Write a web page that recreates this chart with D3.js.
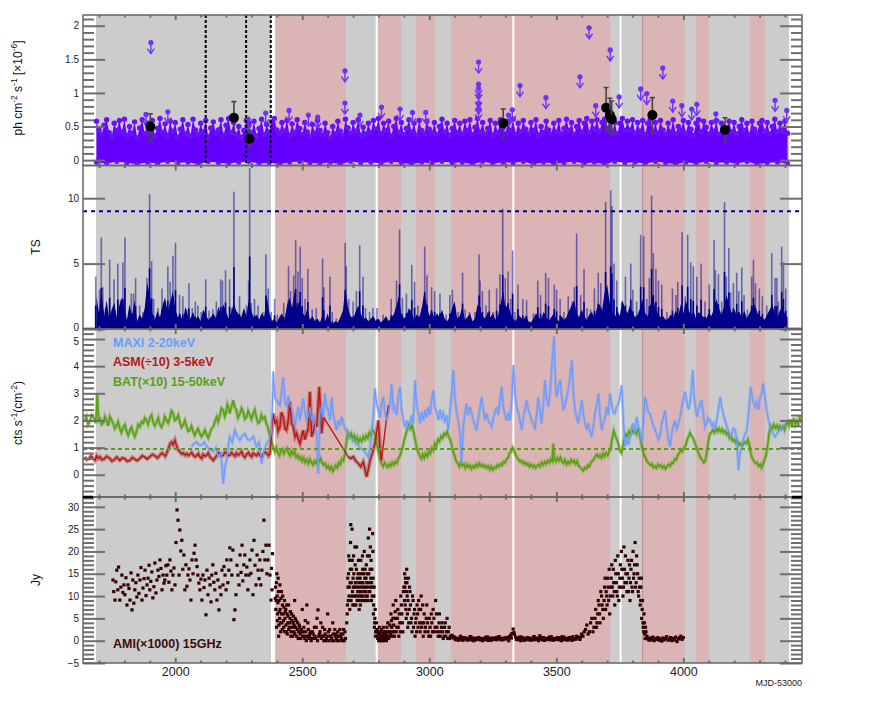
<!DOCTYPE html>
<html><head><meta charset="utf-8">
<script src="https://cdn.jsdelivr.net/npm/d3@7"></script>
<style>
body{margin:0;background:#fff}
svg{display:block}
text{font-family:"Liberation Sans",Arial,Helvetica,sans-serif}
</style>
</head><body>
<svg id="c" width="888" height="721"></svg>
<script>
// ---------------- DATA ----------------
const xDomain=[1637,4467];
const xMajor=[2000,2500,3000,3500,4000];
const grayBand=[1688,4416];
const pinkBands=[[2393,2672],[2798,2889],[2948,3022],[3085,3712],[3840,4005],[4049,4100],[4262,4321]];
const whiteGaps=[[2377,2393],[2789,2797],[3327,3335],[3749,3757]];
const dottedLines=[2120,2279,2376];
const edgeLine=3840;

// Panel 1: LAT flux (1e-6 ph cm-2 s-1), upper envelope every 10 d from 1690
const lfStart=1690, lfStep=10;
const lfTop=[0.58,0.45,0.38,0.52,0.60,0.41,0.35,0.55,0.44,0.59,
0.42,0.61,0.37,0.50,0.40,0.57,0.33,0.48,0.60,0.39,
0.55,0.40,0.59,0.36,0.47,0.62,0.41,0.54,0.37,0.58,
0.43,0.56,0.34,0.46,0.60,0.39,0.53,0.36,0.61,0.45,
0.38,0.55,0.42,0.59,0.35,0.48,0.57,0.40,0.45,0.60,
0.37,0.52,0.62,0.41,0.56,0.38,0.50,0.34,0.44,0.59,
0.55,0.39,0.58,0.36,0.47,0.61,0.38,0.53,0.42,0.57,
0.62,0.45,0.40,0.56,0.43,0.59,0.37,0.54,0.41,0.60,
0.47,0.38,0.56,0.42,0.35,0.53,0.40,0.59,0.44,0.37,
0.55,0.41,0.33,0.50,0.39,0.58,0.43,0.36,0.61,0.48,
0.40,0.56,0.43,0.60,0.37,0.49,0.39,0.55,0.41,0.59,
0.46,0.62,0.39,0.55,0.44,0.58,0.36,0.50,0.62,0.41,
0.56,0.38,0.47,0.60,0.42,0.55,0.37,0.59,0.44,0.39,
0.58,0.46,0.40,0.56,0.38,0.50,0.61,0.42,0.55,0.37,
0.47,0.59,0.41,0.55,0.39,0.58,0.44,0.60,0.38,0.49,
0.62,0.42,0.56,0.39,0.47,0.59,0.37,0.55,0.41,0.60,
0.48,0.39,0.58,0.44,0.61,0.38,0.55,0.42,0.59,0.46,
0.39,0.56,0.44,0.60,0.37,0.50,0.41,0.58,0.45,0.38,
0.55,0.42,0.59,0.39,0.47,0.61,0.44,0.56,0.38,0.50,
0.59,0.42,0.55,0.62,0.41,0.58,0.46,0.60,0.43,0.56,
0.61,0.47,0.59,0.42,0.56,0.39,0.55,0.62,0.44,0.58,
0.45,0.60,0.40,0.56,0.43,0.59,0.38,0.55,0.61,0.42,
0.56,0.40,0.59,0.45,0.38,0.55,0.42,0.60,0.39,0.50,
0.44,0.59,0.40,0.56,0.46,0.37,0.55,0.60,0.42,0.58,
0.49,0.39,0.56,0.43,0.59,0.38,0.55,0.41,0.47,0.58,
0.42,0.56,0.39,0.50,0.60,0.44,0.55,0.38,0.58,0.46,
0.40,0.55,0.59,0.43,0.56,0.39,0.50,0.61,0.42,0.55,
0.44,0.58,0.40];
const lfBotStep=40;
const lfBot=[-0.03,-0.05,-0.02,-0.04,-0.06,-0.03,-0.05,-0.02,-0.04,-0.03,
-0.06,-0.02,-0.04,-0.05,-0.03,-0.02,-0.05,-0.04,-0.06,-0.03,
-0.02,-0.04,-0.05,-0.03,-0.06,-0.02,-0.04,-0.03,-0.05,-0.02,
-0.04,-0.06,-0.03,-0.05,-0.02,-0.04,-0.03,-0.06,-0.02,-0.05,
-0.03,-0.04,-0.02,-0.06,-0.03,-0.05,-0.04,-0.02,-0.05,-0.03,
-0.06,-0.02,-0.04,-0.03,-0.05,-0.02,-0.04,-0.06,-0.03,-0.05,
-0.02,-0.04,-0.03,-0.05,-0.02,-0.06,-0.04,-0.03,-0.05];
const upperLimits=[[1904,1.75],[1885,0.68],[1971,0.72],[2287,0.61],[2356,0.70],[2448,0.74],[2524,0.67],[2561,0.64],
[2668,1.33],[2668,0.85],[2727,0.67],[2812,0.79],[2885,0.76],[2934,0.71],[2986,0.71],
[3194,1.46],[3194,1.13],[3194,1.07],[3194,0.95],[3194,0.85],[3194,0.77],[3312,0.67],[3327,0.75],[3357,1.11],
[3459,0.93],[3593,1.24],[3629,1.97],[3655,0.81],[3712,1.64],[3747,0.94],[3832,1.06],[3856,0.99],[3919,1.37],
[3958,0.88],[3994,0.81],[4033,0.76],[4053,0.83],[4128,0.69],[4361,0.89],[4407,0.74]];
const detections=[[1902,0.50,0.69,0.29],[2231,0.63,0.87,0.40],[2292,0.32,0.44,0.21],[3291,0.55,0.76,0.32],
[3696,0.78,1.08,0.47],[3711,0.67,0.92,0.42],[3718,0.61,0.88,0.37],[3878,0.67,0.93,0.42],[4164,0.45,0.63,0.27]];

// Panel 2: TS
const tsThreshold=9;
const tsCoreStart=1690, tsCoreStep=10;
const tsCore=[2.5,1.2,3.0,1.0,2.2,0.8,1.5,2.0,0.9,1.8,
2.4,1.5,0.7,1.9,1.0,2.2,0.6,1.1,0.8,1.6,
3.5,2.6,1.2,0.7,1.4,0.9,1.8,2.4,1.3,2.0,
2.9,1.6,0.9,1.1,0.6,1.7,1.0,0.8,1.3,0.7,
1.0,0.6,1.5,1.1,0.7,0.9,1.2,0.8,1.7,1.1,
1.9,1.3,0.8,1.2,2.0,1.4,1.1,0.9,1.6,1.0,
2.3,1.4,0.8,1.1,0.7,1.2,0.9,2.6,1.3,0.6,
0.8,0.5,0.9,1.2,0.7,1.8,2.4,1.6,2.9,1.5,
2.2,1.4,0.9,1.6,0.7,1.0,0.6,0.8,0.5,1.1,
0.6,1.2,0.5,0.4,0.6,0.5,0.9,1.4,3.2,1.6,
1.0,0.8,1.3,1.8,1.2,0.7,0.9,0.6,0.8,1.0,
0.6,0.8,0.5,0.7,1.0,0.6,0.9,1.1,1.7,2.5,
1.2,0.8,1.0,1.6,1.3,0.7,1.1,0.9,1.5,2.8,
1.9,1.0,1.4,0.8,1.2,0.9,1.5,0.8,0.6,0.9,
1.6,2.1,0.8,1.0,1.7,0.7,0.9,1.2,0.6,0.8,
1.9,1.5,1.0,0.8,1.3,0.9,1.2,0.7,1.0,1.8,
3.0,1.6,1.9,1.2,0.8,0.6,1.1,0.9,0.7,1.0,
0.6,0.5,0.8,1.2,0.9,0.7,1.3,1.0,0.6,0.9,
1.2,0.8,0.6,1.0,0.7,0.9,1.4,1.8,2.2,1.2,
0.9,1.5,1.0,0.7,1.1,1.3,0.8,1.6,1.9,1.4,
2.8,3.4,2.0,1.3,0.9,1.4,1.0,2.2,1.6,1.2,
1.8,1.3,0.9,1.1,1.6,2.3,1.2,0.9,1.8,2.6,
1.5,1.2,0.9,1.0,0.7,0.8,1.1,0.9,1.4,1.0,
1.9,1.2,2.2,1.5,1.0,1.4,0.8,1.3,1.1,0.9,
0.8,1.2,1.0,1.5,2.3,1.6,1.1,1.7,2.6,1.9,
1.2,1.5,1.1,1.3,0.9,1.4,0.8,1.2,1.6,1.9,
1.3,1.0,0.9,0.7,1.1,1.5,1.9,1.2,0.9,1.4,
1.8,1.1,0.9];
const tsSpikes=[[1687,4.0],[1702,3.0],[1709,7.0],[1715,3.2],[1726,1.6],[1742,5.3],[1759,3.8],[1774,5.0],[1785,2.2],[1794,5.1],
[1802,7.0],[1827,2.7],[1836,2.7],[1844,3.9],[1860,1.8],[1873,1.3],[1889,3.9],[1899,10.3],[1907,5.2],[1915,2.3],
[1932,1.6],[1948,3.1],[1959,1.2],[1971,4.8],[1980,3.6],[1991,5.6],[2001,6.6],[2017,2.6],[2030,2.5],[2046,1.5],
[2054,3.5],[2067,1.6],[2079,2.1],[2089,1.8],[2102,1.3],[2120,3.8],[2133,1.4],[2148,1.5],[2162,2.1],[2179,3.8],
[2186,3.7],[2198,4.5],[2214,3.8],[2222,1.6],[2231,10.5],[2242,1.3],[2253,2.5],[2280,1.8],[2289,3.7],[2293,12.3],
[2299,2.0],[2312,2.3],[2326,1.8],[2345,1.3],[2357,5.7],[2366,3.1],[2378,1.3],[2391,2.3],[2402,1.1],[2427,2.0],
[2446,4.8],[2454,2.9],[2466,4.1],[2474,6.8],[2483,4.4],[2492,6.3],[2500,3.9],[2511,2.3],[2522,4.6],[2539,1.5],
[2555,1.6],[2580,5.4],[2585,3.2],[2609,4.0],[2618,1.3],[2634,0.8],[2669,6.6],[2673,4.8],[2683,2.3],[2700,2.1],
[2713,2.9],[2726,6.4],[2739,4.0],[2749,1.6],[2765,1.3],[2778,1.6],[2794,1.6],[2818,1.1],[2850,2.3],[2871,3.7],
[2883,7.6],[2894,2.4],[2910,2.7],[2931,4.9],[2942,3.6],[2955,1.8],[2970,1.6],[2982,6.3],[2991,4.1],[3009,3.2],
[3021,2.9],[3042,2.7],[3066,1.1],[3081,2.6],[3091,3.0],[3114,1.3],[3131,4.3],[3141,1.5],[3158,1.3],[3180,1.3],
[3196,5.7],[3200,3.7],[3209,2.9],[3223,1.8],[3236,3.0],[3252,1.3],[3265,3.1],[3278,4.2],[3289,9.2],[3299,3.9],
[3310,4.4],[3320,2.3],[3328,6.0],[3337,1.3],[3349,3.4],[3368,2.3],[3383,2.2],[3410,1.2],[3427,3.7],[3438,2.6],
[3458,4.3],[3469,3.9],[3492,3.4],[3501,3.0],[3515,2.3],[3530,1.3],[3547,2.5],[3563,2.1],[3571,3.2],[3580,7.3],
[3596,2.6],[3609,4.6],[3621,1.6],[3635,1.5],[3650,3.1],[3665,4.3],[3675,3.5],[3694,9.7],[3705,2.2],[3714,10.6],
[3719,9.4],[3727,5.0],[3738,3.7],[3757,2.1],[3772,4.0],[3793,5.0],[3801,3.0],[3816,2.1],[3832,7.2],[3844,7.1],
[3856,2.3],[3866,3.9],[3875,10.2],[3882,5.8],[3892,4.6],[3902,3.7],[3915,3.4],[3935,1.3],[3957,3.1],[3971,2.6],
[3978,3.6],[3995,7.4],[4007,2.5],[4017,7.2],[4029,5.1],[4039,4.8],[4053,4.0],[4070,5.0],[4085,2.1],[4102,3.4],
[4121,6.8],[4126,4.5],[4138,4.2],[4151,2.1],[4162,9.7],[4169,4.0],[4179,6.2],[4186,2.8],[4197,3.5],[4210,4.3],
[4218,2.9],[4230,4.7],[4239,2.6],[4252,1.5],[4269,4.0],[4276,5.3],[4284,3.5],[4299,3.1],[4311,2.5],[4328,1.8],
[4348,5.8],[4361,3.9],[4368,3.9],[4374,2.1],[4387,6.3],[4394,5.1],[4403,3.1]];

// Panel 3: X-ray rates [mjd, value]
const batLevel=0.95;
const maxi=[[2064,1.03],[2074,1.15],[2084,1.21],[2094,1.1],[2104,1.09],[2114,1.2],[2124,1.03],[2137,0.95],[2150,0.84],[2160,1.0],
[2169,0.66],[2180,0.8],[2189,-0.33],[2196,0.3],[2202,0.53],[2208,1.0],[2215,1.4],[2225,1.2],[2235,1.64],[2245,1.4],
[2255,1.27],[2265,1.45],[2274,1.52],[2284,1.3],[2294,1.27],[2307,1.4],[2320,1.03],[2330,1.2],[2340,0.41],[2350,0.9],
[2360,1.15],[2370,1.3],[2379,1.52],[2386,3.8],[2392,2.87],[2400,2.7],[2412,2.56],[2418,3.0],[2425,3.6],[2432,2.7],
[2438,2.5],[2445,2.9],[2451,2.6],[2458,2.44],[2465,2.1],[2471,1.76],[2478,2.2],[2485,2.5],[2491,2.0],[2497,2.4],
[2504,2.81],[2511,2.3],[2517,2.0],[2524,2.13],[2530,2.5],[2537,2.0],[2543,2.26],[2550,1.9],[2557,1.4],[2563,0.04],
[2570,2.26],[2576,2.6],[2583,2.1],[2589,3.0],[2596,2.5],[2602,2.38],[2609,2.0],[2616,2.87],[2622,2.2],[2629,1.9],
[2635,1.64],[2642,2.0],[2648,1.8],[2655,2.13],[2662,1.9],[2668,1.7],[2672,1.64],[2680,1.5],[2688,1.4],[2700,1.3],
[2714,1.15],[2727,1.0],[2740,0.9],[2750,0.8],[2760,0.66],[2767,1.0],[2773,1.52],[2780,2.2],[2786,3.18],[2793,2.6],
[2799,2.38],[2806,2.1],[2812,2.6],[2819,2.87],[2826,2.3],[2832,2.0],[2839,2.26],[2846,2.6],[2852,3.36],[2859,2.4],
[2865,2.5],[2872,2.2],[2878,2.9],[2885,3.24],[2891,2.4],[2898,2.0],[2904,1.76],[2911,2.0],[2917,1.64],[2924,1.9],
[2930,2.2],[2937,1.89],[2944,3.49],[2950,2.6],[2957,2.26],[2963,1.9],[2970,2.3],[2977,2.0],[2983,2.4],[2990,2.1],
[2996,2.5],[3003,2.2],[3009,2.7],[3016,3.12],[3022,2.5],[3029,2.3],[3036,2.0],[3042,2.4],[3049,2.1],[3055,2.26],
[3062,1.9],[3068,2.2],[3075,1.64],[3082,2.4],[3088,3.0],[3095,3.86],[3101,2.8],[3108,2.26],[3114,2.0],[3121,1.5],
[3127,0.41],[3134,1.8],[3141,2.3],[3147,2.63],[3154,2.2],[3160,2.5],[3167,2.26],[3173,2.0],[3180,1.8],[3186,1.64],
[3193,2.1],[3200,2.5],[3206,2.87],[3213,2.4],[3219,2.0],[3226,2.26],[3232,2.0],[3239,1.9],[3246,1.76],[3252,2.1],
[3259,2.3],[3265,2.5],[3272,2.2],[3278,2.8],[3285,3.24],[3291,2.5],[3298,2.2],[3305,2.0],[3311,2.3],[3318,2.0],
[3324,2.63],[3331,4.04],[3337,3.0],[3344,2.5],[3350,2.3],[3357,2.0],[3364,1.64],[3370,2.1],[3377,2.4],[3383,2.75],
[3390,2.4],[3396,2.26],[3403,2.0],[3410,1.9],[3416,1.64],[3423,2.3],[3429,2.87],[3436,2.3],[3442,1.89],[3449,2.6],
[3455,3.49],[3462,2.8],[3469,2.5],[3475,3.0],[3482,3.98],[3491,5.09],[3496,3.5],[3501,2.87],[3508,3.2],[3515,3.49],
[3521,2.9],[3528,2.38],[3535,2.6],[3541,2.87],[3548,3.2],[3554,3.6],[3561,4.22],[3567,3.0],[3574,2.38],[3580,2.1],
[3587,1.89],[3593,2.3],[3600,2.75],[3607,2.2],[3613,1.9],[3620,1.64],[3626,1.9],[3633,1.6],[3639,1.4],[3646,1.8],
[3652,2.26],[3659,2.6],[3666,3.0],[3672,2.2],[3679,1.64],[3685,1.9],[3692,2.13],[3698,2.5],[3705,2.2],[3711,3.0],
[3718,2.6],[3724,2.3],[3731,2.26],[3737,2.5],[3744,2.6],[3751,2.87],[3757,3.3],[3764,2.0],[3770,1.03],[3777,1.3],
[3784,1.1],[3790,1.4],[3797,1.7],[3803,1.9],[3810,1.5],[3816,2.13],[3823,1.8],[3830,1.5],[3836,1.15],[3843,2.0],
[3849,2.87],[3856,2.6],[3862,2.3],[3869,2.26],[3875,2.0],[3882,1.8],[3889,1.64],[3895,1.5],[3902,1.3],[3908,1.4],
[3915,1.9],[3921,2.1],[3928,2.38],[3934,1.8],[3941,1.3],[3948,1.03],[3954,1.5],[3961,1.8],[3967,2.0],[3974,1.7],
[3981,1.9],[3987,2.13],[3994,2.5],[4000,2.8],[4007,3.06],[4013,2.7],[4020,2.4],[4026,2.63],[4032,3.2],[4037,3.86],
[4043,2.8],[4049,2.4],[4053,2.13],[4060,2.4],[4066,2.6],[4072,2.75],[4079,2.2],[4085,1.76],[4092,1.9],[4098,2.1],
[4105,2.0],[4112,1.8],[4118,1.9],[4125,1.64],[4131,2.0],[4138,2.4],[4145,2.87],[4151,2.5],[4158,2.2],[4164,2.0],
[4171,1.8],[4178,1.6],[4184,1.4],[4191,1.5],[4197,1.7],[4204,1.64],[4210,1.3],[4217,0.17],[4223,0.8],[4230,1.03],
[4236,1.3],[4243,1.5],[4250,1.64],[4256,2.2],[4265,3.24],[4272,2.8],[4282,2.5],[4289,2.7],[4296,2.4],[4302,2.87],
[4309,3.0],[4315,3.36],[4322,2.8],[4328,2.38],[4335,2.0],[4341,1.77],[4348,1.6],[4354,1.5],[4361,1.4],[4368,1.5],
[4374,1.6],[4381,1.64],[4388,1.75],[4394,1.8],[4400,1.89]];
const asm=[[1644,0.66],[1652,0.55],[1660,0.58],[1668,0.7],[1677,0.6],[1684,0.52],[1690,0.7],[1697,0.6],[1704,0.66],[1712,0.55],
[1720,0.58],[1730,0.68],[1743,0.6],[1751,0.5],[1760,0.55],[1770,0.65],[1782,0.53],[1791,0.62],[1800,0.6],[1811,0.5],
[1822,0.53],[1831,0.64],[1840,0.58],[1850,0.52],[1861,0.6],[1870,0.7],[1880,0.65],[1890,0.58],[1900,0.66],[1910,0.75],
[1920,0.7],[1930,0.62],[1940,0.72],[1948,0.8],[1955,0.75],[1961,0.68],[1966,0.78],[1975,1.0],[1980,1.15],[1986,1.21],
[1992,1.1],[1999,1.27],[2004,1.1],[2008,1.0],[2013,0.9],[2019,0.84],[2026,0.76],[2032,0.8],[2039,0.72],[2045,0.78],
[2052,0.7],[2058,0.75],[2064,0.82],[2071,0.72],[2078,0.66],[2084,0.7],[2091,0.78],[2097,0.66],[2104,0.6],[2110,0.75],
[2117,0.68],[2124,0.72],[2130,0.8],[2137,0.65],[2143,0.6],[2150,0.53],[2157,0.62],[2163,0.7],[2170,0.82],[2176,0.78],
[2183,0.68],[2189,0.72],[2196,0.84],[2202,0.8],[2209,0.7],[2215,0.72],[2222,0.82],[2228,0.75],[2235,0.68],[2241,0.8],
[2248,0.72],[2255,0.78],[2261,0.86],[2268,0.7],[2274,0.64],[2281,0.75],[2288,0.82],[2294,0.72],[2301,0.66],[2307,0.8],
[2314,0.74],[2320,0.7],[2327,0.8],[2333,0.72],[2340,0.66],[2346,0.75],[2353,0.84],[2360,0.8],[2367,0.7],[2373,0.78],
[2386,2.26],[2392,1.9],[2399,2.0],[2405,1.6],[2412,1.76],[2418,2.3],[2425,2.13],[2432,1.7],
[2438,1.64],[2445,2.0],[2451,2.69],[2458,1.9],[2465,1.76],[2472,1.4],[2478,1.52],[2485,1.3],[2491,1.15],[2497,1.4],
[2504,1.64],[2510,1.3],[2517,1.52],[2524,1.7],[2530,3.06],[2537,1.4],[2544,1.6],[2550,1.9],[2557,1.76],[2567,3.24],
[2576,1.52],[2583,2.13],[2681,0.66],[2691,0.6],[2701,0.66],[2711,0.5],[2721,0.41],[2730,0.3],[2740,0.47],[2747,0.2],
[2753,-0.08],[2760,0.2],[2767,0.53],[2776,0.8],[2786,1.15],[2793,1.6],[2799,2.0],[2806,1.0],[2812,0.53],[2826,1.64],
[2839,2.56]];
const asmBandRanges=[[1644,2583],[2681,2812]];
const bat=[[1644,2.0],[1650,2.15],[1657,1.85],[1664,1.95],[1672,2.2],[1680,2.1],[1687,1.9],[1693,3.0],[1698,2.0],[1704,2.07],
[1710,1.85],[1717,1.9],[1723,2.15],[1730,2.0],[1736,1.8],[1743,2.15],[1750,2.0],[1756,1.9],[1762,1.7],[1769,1.8],
[1775,1.95],[1782,1.7],[1788,1.55],[1795,1.75],[1802,1.85],[1809,1.58],[1815,1.45],[1822,1.65],[1828,1.75],[1835,1.52],
[1841,1.4],[1848,1.6],[1854,1.85],[1861,1.77],[1867,1.95],[1874,1.9],[1880,2.1],[1887,2.0],[1893,1.85],[1900,2.1],
[1907,2.2],[1914,1.9],[1920,1.8],[1927,1.95],[1933,2.1],[1940,1.83],[1946,1.75],[1953,1.9],[1959,2.15],[1966,2.0],
[1972,1.9],[1979,2.1],[1985,2.35],[1992,2.26],[1998,2.0],[2005,2.05],[2012,2.2],[2019,1.9],[2025,1.75],[2032,1.85],
[2038,2.0],[2045,1.77],[2051,1.6],[2058,1.65],[2064,1.8],[2071,1.58],[2077,1.45],[2084,1.6],[2090,1.7],[2097,1.52],
[2103,1.4],[2110,1.5],[2117,1.65],[2124,1.46],[2130,1.35],[2137,1.55],[2143,1.7],[2150,1.77],[2156,1.95],[2163,2.13],
[2169,1.95],[2176,2.2],[2182,2.45],[2189,2.38],[2195,2.15],[2200,2.3],[2205,2.6],[2209,2.5],[2214,2.25],[2218,2.4],
[2223,2.55],[2228,2.75],[2234,2.5],[2240,2.4],[2247,2.1],[2255,2.26],[2261,2.45],[2268,2.3],[2274,2.05],[2281,2.13],
[2287,2.35],[2294,2.2],[2300,2.05],[2307,2.26],[2313,2.4],[2320,2.1],[2326,1.9],[2333,1.95],[2339,2.2],[2345,2.05],
[2353,2.13],[2358,1.9],[2363,1.8],[2368,1.6],[2373,1.45],[2380,1.2],[2386,1.03],[2392,0.85],[2398,1.0],[2404,0.82],
[2410,0.7],[2416,0.88],[2422,0.95],[2428,0.78],[2434,0.92],[2440,0.98],[2446,0.8],[2452,0.7],[2458,0.88],[2464,0.75],
[2470,0.85],[2476,0.65],[2482,0.72],[2488,0.58],[2494,0.66],[2500,0.5],[2506,0.62],[2512,0.45],[2518,0.55],[2524,0.4],
[2530,0.58],[2536,0.45],[2542,0.36],[2548,0.5],[2554,0.42],[2560,0.56],[2566,0.48],[2572,0.6],[2578,0.44],[2584,0.36],
[2590,0.42],[2596,0.25],[2602,0.33],[2608,0.2],[2614,0.3],[2620,0.12],[2626,0.22],[2632,0.35],[2638,0.26],[2644,0.45],
[2650,0.38],[2656,0.58],[2662,0.52],[2668,0.78],[2674,1.2],[2680,1.55],[2686,1.4],[2692,1.52],[2698,1.32],[2704,1.45],
[2710,1.25],[2716,1.38],[2722,1.2],[2728,1.33],[2734,1.22],[2740,1.4],[2746,1.3],[2752,1.45],[2758,1.35],[2764,1.55],
[2770,1.45],[2776,1.68],[2782,1.55],[2788,1.45],[2794,1.1],[2800,0.8],[2806,0.55],[2812,0.42],[2818,0.3],[2824,0.45],
[2830,0.35],[2836,0.28],[2842,0.4],[2848,0.32],[2854,0.45],[2860,0.36],[2866,0.48],[2872,0.42],[2878,0.6],[2884,0.68],
[2890,0.85],[2896,1.05],[2902,1.3],[2908,1.5],[2914,1.72],[2920,1.85],[2926,1.7],[2932,1.82],[2938,1.6],[2944,1.3],
[2950,1.0],[2956,0.85],[2962,0.72],[2968,0.6],[2974,0.75],[2980,0.62],[2986,0.78],[2992,0.68],[2998,0.85],[3004,0.78],
[3010,0.98],[3016,0.9],[3022,1.15],[3028,1.05],[3034,1.3],[3040,1.22],[3046,1.42],[3052,1.35],[3058,1.52],[3064,1.45],
[3070,1.6],[3076,1.42],[3082,1.3],[3088,1.1],[3094,0.85],[3100,0.7],[3106,0.5],[3112,0.42],[3118,0.3],[3124,0.45],
[3130,0.33],[3136,0.4],[3142,0.25],[3148,0.38],[3154,0.28],[3160,0.35],[3166,0.22],[3172,0.32],[3178,0.26],[3184,0.38],
[3190,0.3],[3196,0.42],[3202,0.32],[3208,0.38],[3214,0.28],[3220,0.35],[3226,0.25],[3232,0.32],[3238,0.2],[3244,0.3],
[3250,0.18],[3256,0.28],[3262,0.24],[3268,0.36],[3274,0.3],[3280,0.4],[3286,0.35],[3292,0.48],[3298,0.44],[3304,0.58],
[3310,0.62],[3316,0.8],[3322,0.85],[3328,1.0],[3334,0.88],[3340,0.72],[3346,0.62],[3352,0.55],[3358,0.48],[3364,0.52],
[3370,0.4],[3376,0.46],[3382,0.36],[3388,0.42],[3394,0.3],[3400,0.38],[3406,0.28],[3412,0.35],[3418,0.25],[3424,0.32],
[3430,0.38],[3436,0.3],[3442,0.45],[3448,0.36],[3454,0.48],[3460,0.4],[3466,0.52],[3472,0.44],[3478,0.58],[3484,0.5],
[3488,1.15],[3492,0.55],[3498,0.48],[3504,0.62],[3510,0.52],[3516,0.64],[3522,0.5],[3528,0.42],[3534,0.55],[3540,0.38],
[3546,0.48],[3552,0.4],[3558,0.55],[3564,0.45],[3570,0.52],[3576,0.4],[3582,0.5],[3588,0.32],[3594,0.28],[3600,0.2],
[3606,0.15],[3612,0.26],[3618,0.22],[3624,0.35],[3630,0.3],[3636,0.45],[3642,0.5],[3648,0.58],[3654,0.68],[3660,0.75],
[3666,0.65],[3672,0.72],[3678,0.62],[3684,0.78],[3690,0.68],[3696,0.8],[3702,0.72],[3708,0.85],[3714,0.95],[3720,1.35],
[3726,1.62],[3732,1.45],[3738,1.3],[3744,1.15],[3750,0.9],[3756,0.8],[3762,1.05],[3768,1.35],[3774,1.5],[3780,1.42],
[3786,1.6],[3792,1.5],[3798,1.68],[3804,1.55],[3810,1.62],[3816,1.5],[3822,1.72],[3828,1.5],[3834,1.15],[3840,0.9],
[3846,0.72],[3852,0.6],[3858,0.48],[3864,0.42],[3870,0.35],[3876,0.4],[3882,0.26],[3888,0.32],[3894,0.25],[3900,0.38],
[3906,0.3],[3912,0.36],[3918,0.25],[3924,0.32],[3930,0.22],[3936,0.3],[3942,0.38],[3948,0.32],[3954,0.45],[3960,0.42],
[3966,0.58],[3972,0.55],[3978,0.72],[3984,0.8],[3990,0.9],[3996,0.85],[4002,1.0],[4008,1.05],[4014,1.25],[4020,1.4],
[4026,1.55],[4032,1.42],[4038,1.35],[4044,1.2],[4050,1.05],[4056,0.9],[4062,0.75],[4068,0.62],[4074,0.55],[4080,0.45],
[4086,0.5],[4092,0.8],[4098,1.2],[4104,1.5],[4110,1.55],[4116,1.65],[4122,1.55],[4128,1.72],[4134,1.6],[4140,1.7],
[4146,1.58],[4152,1.68],[4158,1.55],[4164,1.62],[4170,1.48],[4176,1.55],[4182,1.35],[4188,1.42],[4194,1.25],[4200,1.3],
[4206,1.18],[4212,1.25],[4218,1.1],[4224,1.15],[4230,1.05],[4236,1.12],[4242,1.2],[4248,1.15],[4254,1.3],[4260,1.1],
[4266,0.75],[4272,0.6],[4278,0.5],[4284,0.42],[4290,0.45],[4296,0.32],[4302,0.38],[4308,0.26],[4314,0.4],[4320,0.55],
[4326,0.75],[4332,1.1],[4338,1.55],[4344,1.8],[4350,1.7],[4356,1.85],[4362,1.72],[4368,1.82],[4374,1.68],[4380,1.8],
[4386,1.7],[4392,1.78],[4398,1.65],[4404,1.85],[4410,1.95],[4416,1.8],[4422,2.05],[4428,1.75],[4434,2.1],[4440,1.85],
[4446,2.0],[4452,1.8],[4458,2.15],[4464,1.9]];

// Panel 4: AMI 15 GHz (x1000) [mjd, value]
const amiPre=[[1755,13.6],[1763,9.1],[1770,15.8],[1774,11.4],[1782,9.1],[1790,14.7],[1798,12.5],[1802,10.3],[1810,8.0],[1814,12.5],
[1822,9.1],[1830,6.9],[1833,13.6],[1841,11.4],[1849,9.8],[1853,14.7],[1861,13.6],[1869,9.1],[1873,11.8],[1881,15.8],
[1889,12.5],[1893,14.0],[1900,11.4],[1908,15.4],[1912,9.6],[1920,17.4],[1928,13.6],[1932,15.8],[1940,18.1],[1948,11.4],
[1952,14.7],[1959,13.6],[1967,14.7],[1971,17.0],[1979,18.1],[1987,11.4],[1991,14.7],[1999,12.5],[2007,29.3],[2011,27.0],
[2015,14.7],[2018,24.8],[2026,22.5],[2034,19.2],[2038,11.4],[2042,17.0],[2050,14.7],[2058,13.6],[2062,9.1],[2066,18.1],
[2078,21.4],[2082,18.1],[2089,14.7],[2097,11.4],[2105,9.1],[2109,14.7],[2117,13.6],[2121,5.8],[2125,15.8],[2129,10.3],
[2137,12.5],[2144,14.7],[2148,17.0],[2156,11.4],[2164,9.1],[2168,13.6],[2172,6.9],[2180,10.3],[2184,15.8],[2188,12.5],
[2196,14.7],[2200,11.4],[2203,18.1],[2211,15.8],[2219,18.1],[2223,14.7],[2227,20.3],[2231,4.7],[2235,6.9],[2239,10.3],
[2247,14.7],[2251,12.5],[2255,19.2],[2263,21.4],[2270,17.0],[2274,19.2],[2278,14.7],[2286,11.4],[2290,14.7],[2294,18.1],
[2302,20.3],[2306,10.3],[2310,22.5],[2318,12.5],[2322,19.2],[2326,15.8],[2333,18.1],[2337,12.5],[2341,15.8],[2349,27.0],
[2353,18.1],[2357,21.4],[2365,18.1],[2369,21.4],[2373,14.7],[2377,9.1],[2381,11.4]];
const amiPreB=[[1758,11.0],[1766,13.2],[1777,16.5],[1786,12.0],[1794,10.8],[1806,14.1],[1818,11.7],[1826,15.2],[1837,8.4],[1845,13.0],
[1857,10.6],[1865,16.4],[1877,13.9],[1885,10.1],[1897,16.9],[1904,13.3],[1916,12.1],[1924,10.7],[1936,14.4],[1944,16.2],
[1956,12.9],[1963,16.8],[1975,13.1],[1983,15.6],[1995,16.3],[2003,22.0],[2022,20.1],[2030,16.0],[2046,12.2],[2054,16.1],
[2070,15.0],[2074,19.6],[2086,16.6],[2093,12.9],[2101,13.8],[2113,11.9],[2133,14.0],[2141,8.7],[2152,13.1],[2160,15.1],
[2176,12.0],[2192,16.6],[2207,13.0],[2215,20.8],[2243,16.9],[2259,15.3],[2266,13.4],[2282,16.5],[2298,15.1],[2314,16.9],
[2330,13.9],[2345,20.0],[2361,15.0],[2379,16.2],[2383,19.5]];
const amiDecay=[[2395,12],[2396,7],[2397,9],[2399,3],[2400,15],[2401,10],[2403,6],[2405,14],[2407,1],[2409,9],
[2411,5],[2413,7],[2415,2],[2418,11],[2420,4],[2422,8],[2425,6],[2427,3],[2430,9],[2432,5],
[2435,7],[2437,2],[2440,6],[2443,4],[2446,8],[2449,3],[2452,5],[2455,1],[2458,6],[2461,3],
[2464,4],[2467,2],[2470,9],[2472,5],[2474,3],[2478,1],[2482,4],[2486,2],[2490,3],[2494,0.5],
[2498,2],[2500,7],[2502,1],[2506,3],[2510,0.5],[2514,2],[2518,8],[2520,1],[2522,4],[2526,0.5],
[2530,1.5],[2535,0],[2540,2],[2545,0.5],[2550,1],[2555,3],[2558,5],[2560,0],[2562,6.9],[2565,1],
[2570,2],[2575,0.5],[2580,3],[2583,1],[2585,0],[2590,1.5],[2595,0.5],[2600,6],[2603,2],[2605,0],
[2610,1],[2615,0.5],[2620,4],[2622,1.5],[2625,0],[2630,1],[2635,0.5],[2640,2],[2645,0],[2650,1],
[2655,0.5],[2660,1.5],[2665,0],[2668,2]];
const amiDecayB=[[2394,9.5],[2398,13],[2402,4.5],[2404,8.5],[2406,11],[2408,3.5],[2410,6.5],[2412,12.5],[2414,4],[2416,9.5],
[2419,6],[2421,2.5],[2423,10],[2426,4.5],[2428,7.5],[2431,2],[2433,6.5],[2436,3.5],[2439,8],[2441,1.5],
[2444,5.5],[2447,2.5],[2450,4],[2453,6.5],[2456,2],[2459,4.5],[2462,1],[2465,5.5],[2468,3.5],[2471,1.5],
[2476,4.5],[2480,2.5],[2484,0.5],[2488,3.5],[2492,1.5],[2496,2.5],[2504,2],[2508,1],[2512,4.5],[2516,0],
[2524,2.5],[2528,1],[2533,2],[2538,0.5],[2543,1.5],[2548,3],[2553,0.5],[2568,1.5],[2573,4],[2578,1],
[2588,2.5],[2593,0],[2598,1],[2608,2.5],[2613,1],[2618,0],[2628,2.5],[2633,1.5],[2638,0],[2643,1],
[2648,2.5],[2653,1.5],[2658,0],[2663,2.5],[2670,0.5]];
const amiFlareA=[[2675,4],[2678,8],[2680,12],[2682,15],[2684,10],[2686,18],[2688,13],[2690,22],[2692,9],[2694,16],
[2696,25],[2698,11],[2700,14],[2702,19],[2704,8],[2706,12],[2708,17],[2710,10],[2712,13],[2714,21],
[2716,9],[2718,11],[2720,15],[2722,12],[2724,7],[2726,10],[2728,14],[2730,18],[2732,11],[2734,9],
[2736,13],[2738,16],[2740,10],[2742,12],[2744,20],[2746,14],[2748,9],[2750,11],[2752,17],[2754,13],
[2756,10],[2758,12],[2760,23],[2762,15],[2764,19],[2766,11],[2768,21],[2770,14],[2772,9],[2774,16],
[2776,12],[2778,20],[2780,6],[2782,10],[2784,3],[2786,5],[2788,1],[2790,2]];
const amiFlareB=[[2677,6],[2679,14],[2681,9],[2683,19],[2685,12],[2687,7],[2689,16],[2691,26],[2693,13],[2695,10],
[2697,18],[2699,8],[2701,12],[2703,15],[2705,10],[2707,21],[2709,13],[2711,8],[2713,16],[2715,12],
[2717,14],[2719,10],[2721,18],[2723,9],[2725,13],[2727,11],[2729,8],[2731,15],[2733,12],[2735,10],
[2737,19],[2739,13],[2741,15],[2743,9],[2745,11],[2747,16],[2749,12],[2751,14],[2753,10],[2755,15],
[2757,19],[2759,9],[2761,13],[2763,11],[2765,25],[2767,16],[2769,12],[2771,18],[2773,13],[2775,10],
[2777,24],[2779,14],[2781,8],[2783,12],[2785,4],[2787,7],[2789,2]];
const amiMid=[[2792,4],[2795,1],[2798,2],[2801,0],[2804,1.5],[2807,0.5],[2810,2],[2813,0],[2816,1],[2819,3],
[2822,0.5],[2825,1],[2828,2],[2831,0],[2834,1],[2837,4],[2840,0.5],[2843,2],[2846,1],[2849,6],
[2852,3],[2855,1],[2858,8],[2861,2],[2864,5],[2868,9],[2872,3],[2876,7],[2880,1],[2884,4],
[2888,10],[2892,6],[2896,2],[2900,12],[2903,15],[2905,8],[2907,13],[2909,5],[2911,16],[2913,10],
[2915,3],[2918,14],[2921,7],[2924,11],[2928,4],[2932,2],[2936,9],[2940,6],[2944,1],[2948,5],
[2952,8],[2956,3],[2960,7],[2964,2],[2968,10],[2972,4],[2976,1],[2980,6],[2985,3],[2990,8],
[2995,2],[3000,5],[3005,1],[3010,4],[3015,7],[3020,2],[3025,9],[3030,3],[3035,1],[3040,6],
[3045,2],[3050,4],[3055,0.5],[3060,3],[3065,1],[3070,5],[3075,2],[3080,0.5],[3085,1]];
const amiMidB=[[2794,2.5],[2797,0.5],[2800,1.5],[2803,3],[2806,0],[2809,1],[2812,2.5],[2815,0.5],[2818,1.5],[2821,0],
[2824,2],[2827,0.5],[2830,1.5],[2833,3],[2836,0.5],[2839,2],[2842,1],[2845,3.5],[2848,1.5],[2851,4.5],
[2854,2],[2857,5],[2860,3.5],[2863,1],[2866,6.5],[2870,2],[2874,5],[2878,3],[2882,6],[2886,2],
[2890,8],[2894,4],[2898,11],[2902,9],[2904,12],[2906,14],[2908,7],[2910,11],[2912,13],[2914,6],
[2916,9],[2919,4],[2922,12],[2926,8],[2930,5],[2934,10],[2938,3],[2942,7],[2946,4],[2950,2],
[2954,6],[2958,9],[2962,4],[2966,7],[2970,3],[2974,8],[2978,4],[2983,2],[2988,5],[2993,4],
[2998,1],[3003,3],[3008,6],[3013,2],[3018,5],[3023,3],[3028,6],[3033,2],[3038,4],[3043,1],
[3048,3],[3053,2],[3058,1],[3063,4],[3068,2],[3073,0.5],[3078,3],[3083,1]];
const amiFlatAStart=3090, amiFlatAStep=5;
const amiFlatA=[1.2,0.6,0.8,0.3,0.5,0.1,0.6,0.3,0.2,0.7,
0.4,0.5,0.1,0.4,0.9,0.2,0.3,0.6,0.1,0.4,
0.3,0.7,0.2,0.5,0.0,0.3,0.6,0.2,0.8,0.1,
0.4,0.1,0.5,0.3,0.7,0.2,0.4,0.9,0.3,0.5,
0.2,0.6,0.4,0.7,0.3,0.9,1.2,1.6,2.6,1.4,
0.8,0.5,0.2,0.8,0.0,0.4,0.6,0.1,0.3,0.7,
0.2,0.5,0.1,0.4,0.8,0.2,0.3,0.6,0.0,1.1,
0.4,0.2,0.7,0.1,0.5,0.3,0.6,0.2,0.9,0.4,
0.1,0.5,0.3,0.7,0.2,0.6,0.0,0.4,0.8,0.3,
0.5,0.1,0.7,0.4,0.2,0.9,0.5,0.3,1.0,0.6,
0.4,0.8];
const amiFlatA2Start=3093, amiFlatA2Step=10;
const amiFlatA2=[0.8,0.2,0.5,1.0,0.1,0.6,0.3,0.9,0.0,0.5,
0.7,0.2,0.4,0.8,0.1,0.6,0.3,0.5,0.9,0.2,
0.4,0.7,0.0,0.6,1.8,0.3,0.5,0.8,0.1,0.4,
0.6,0.2,0.9,0.3,0.5,0.7,0.1,0.4,0.8,0.2,
0.5,0.3,0.6,0.9,0.2,0.4,0.7,0.1,0.5,0.8,
0.3];
const amiRise=[[3600,1.5],[3610,2],[3620,3.5],[3630,2],[3640,5],[3648,3],[3655,7],[3660,4],[3665,9],[3670,6],
[3675,11],[3680,8],[3685,5],[3690,12],[3694,7],[3698,10],[3702,14],[3706,9],[3710,6],[3714,12],
[3718,17],[3722,10],[3726,13],[3730,8],[3734,15],[3738,11],[3742,19],[3746,9],[3750,14],[3754,12],
[3758,16],[3762,10],[3766,21],[3770,13],[3774,15],[3778,11],[3782,18],[3786,14],[3790,9],[3794,16],
[3798,12],[3802,20],[3806,15],[3810,22],[3814,13],[3818,17],[3822,11],[3826,14],[3830,8],[3833,12],
[3836,5],[3839,9],[3842,3],[3845,6],[3848,1.5],[3851,3],[3854,0.5],[3857,1]];
const amiRiseB=[[3605,1],[3615,2.5],[3625,1.5],[3635,4],[3644,2],[3652,5],[3658,3],[3663,6],[3668,8],[3672,4],
[3678,10],[3683,7],[3688,9],[3692,14],[3696,11],[3700,8],[3704,12],[3708,16],[3712,10],[3716,14],
[3720,12],[3724,16],[3728,11],[3732,18],[3736,13],[3740,10],[3744,15],[3748,12],[3752,17],[3756,20],
[3760,14],[3764,12],[3768,16],[3772,19],[3776,13],[3780,15],[3784,11],[3788,17],[3792,13],[3796,18],
[3800,11],[3804,14],[3808,17],[3812,12],[3816,19],[3820,15],[3824,10],[3828,12],[3832,9],[3835,14],
[3838,7],[3841,4],[3844,2],[3847,4],[3850,0.5],[3853,2]];
const amiFlatBStart=3860, amiFlatBStep=5;
const amiFlatB=[0.4,0.1,0.6,0.2,0.8,0.0,0.5,0.3,0.7,0.1,
0.4,-0.1,0.6,0.2,0.5,0.9,0.1,0.3,0.7,0.0,
0.5,0.2,0.8,-0.2,0.4,0.6,1.0,0.3,0.7];

// ---------------- DRAWING ----------------
const svg=d3.select('#c');
const L=83,R=802;
const x=d3.scaleLinear().domain(xDomain).range([L,R]);

function minorVals(dom,step,major){
  const a=Math.ceil(dom[0]/step-1e-9), b=Math.floor(dom[1]/step+1e-9);
  return d3.range(a,b+1).map(i=>+(i*step).toFixed(4)).filter(v=>!major.some(m=>Math.abs(m-v)<1e-6));
}
const panels=[
  {top:15,bot:165.5,dom:[-0.08,2.16],maj:[0,0.5,1,1.5,2],step:0.1},
  {top:165.5,bot:329,dom:[0,12.5],maj:[0,5,10],step:null},
  {top:329,bot:497,dom:[-0.82,5.37],maj:[0,1,2,3,4,5],step:0.2},
  {top:497,bot:663,dom:[-5,32.2],maj:[-5,0,5,10,15,20,25,30],step:1}
];
panels.forEach((p,i)=>{
  p.y=d3.scaleLinear().domain(p.dom).range([p.bot,p.top]);
  const cp=svg.append('clipPath').attr('id','clip'+i);
  cp.append('rect').attr('x',L).attr('y',p.top).attr('width',R-L).attr('height',p.bot-p.top);
  p.g=svg.append('g').attr('clip-path',`url(#clip${i})`);
  p.g.append('rect').attr('x',x(grayBand[0])).attr('width',x(grayBand[1])-x(grayBand[0]))
    .attr('y',p.top).attr('height',p.bot-p.top).attr('fill','#cccccc');
  p.g.selectAll('rect.pk').data(pinkBands).join('rect').attr('class','pk')
    .attr('x',d=>x(d[0])).attr('width',d=>x(d[1])-x(d[0])).attr('y',p.top).attr('height',p.bot-p.top).attr('fill','#dbb5b5');
  p.g.selectAll('rect.wg').data(whiteGaps).join('rect').attr('class','wg')
    .attr('x',d=>x(d[0])).attr('width',d=>Math.max(2,x(d[1])-x(d[0])-(d[1]-d[0]>10?0:1))).attr('y',p.top).attr('height',p.bot-p.top).attr('fill','#ffffff');
  p.g.append('line').attr('x1',x(edgeLine)).attr('x2',x(edgeLine)).attr('y1',p.top).attr('y2',p.bot)
    .attr('stroke','#c08c8c').attr('stroke-width',1);
});

// ---- Panel 1 ----
{
  const p=panels[0], g=p.g, y=p.y;
  const top=lfTop.map((v,i)=>({m:lfStart+i*lfStep,v}));
  const bot=lfBot.map((v,i)=>({m:lfStart+i*lfBotStep,v}));
  const purple='#6400ff';
  g.append('path').datum(top).attr('fill',purple)
    .attr('d',d3.area().x(d=>x(d.m)).y0(y(0.0)).y1(d=>y(d.v)));
  g.append('path').datum(bot).attr('fill',purple)
    .attr('d',d3.area().x(d=>x(d.m)).y0(y(0.03)).y1(d=>y(d.v)));
  g.selectAll('circle.t').data(top).join('circle').attr('class','t')
    .attr('cx',d=>x(d.m)).attr('cy',d=>y(d.v)).attr('r',2.7).attr('fill','#6a10ff');
  g.selectAll('circle.b').data(bot).join('circle').attr('class','b')
    .attr('cx',d=>x(d.m)).attr('cy',d=>y(d.v)).attr('r',2.5).attr('fill','#6a10ff');
  const ul=g.selectAll('g.ul').data(upperLimits).join('g').attr('class','ul')
    .attr('transform',d=>`translate(${x(d[0])},${y(d[1])})`);
  const ac='#6e30ff';
  ul.append('circle').attr('r',2.6).attr('fill',ac);
  ul.append('line').attr('y1',0).attr('y2',11).attr('stroke',ac).attr('stroke-width',1.4);
  ul.append('path').attr('d','M-3.5,6L0,11L3.5,6').attr('fill','none').attr('stroke',ac).attr('stroke-width',1.4);
  const dt=g.selectAll('g.dt').data(detections).join('g').attr('class','dt');
  dt.append('line').attr('x1',d=>x(d[0])).attr('x2',d=>x(d[0])).attr('y1',d=>y(d[2])).attr('y2',d=>y(d[3]))
    .attr('stroke','#444').attr('stroke-width',1.6);
  dt.append('line').attr('x1',d=>x(d[0])-2.5).attr('x2',d=>x(d[0])+2.5).attr('y1',d=>y(d[2])).attr('y2',d=>y(d[2]))
    .attr('stroke','#444').attr('stroke-width',1.6);
  dt.append('line').attr('x1',d=>x(d[0])-2.5).attr('x2',d=>x(d[0])+2.5).attr('y1',d=>y(d[3])).attr('y2',d=>y(d[3]))
    .attr('stroke','#444').attr('stroke-width',1.6);
  dt.append('circle').attr('cx',d=>x(d[0])).attr('cy',d=>y(d[1])).attr('r',5).attr('fill','#000');
  g.selectAll('line.dl').data(dottedLines).join('line').attr('class','dl')
    .attr('x1',d=>x(d)).attr('x2',d=>x(d)).attr('y1',p.top).attr('y2',p.bot)
    .attr('stroke','#000').attr('stroke-width',2).attr('stroke-dasharray','3,2');
}

// ---- Panel 2 ----
{
  const p=panels[1], g=p.g, y=p.y;
  g.selectAll('rect.sp').data(tsSpikes).join('rect').attr('class','sp')
    .attr('x',d=>x(d[0])-0.8).attr('width',1.6).attr('y',d=>y(d[1])).attr('height',d=>y(0)-y(d[1]))
    .attr('fill','rgba(0,0,140,0.5)');
  const core=tsCore.map((v,i)=>({m:tsCoreStart+i*tsCoreStep,v}));
  g.append('path').datum(core).attr('fill','#00008c')
    .attr('d',d3.area().x(d=>x(d.m)).y0(y(0)).y1(d=>y(d.v)));
  g.selectAll('rect.sd').data(tsSpikes).join('rect').attr('class','sd')
    .attr('x',d=>x(d[0])-0.8).attr('width',1.6).attr('y',d=>y(d[1]*0.45)).attr('height',d=>y(0)-y(d[1]*0.45))
    .attr('fill','#00008c');
  g.append('line').attr('x1',L).attr('x2',R).attr('y1',y(tsThreshold)).attr('y2',y(tsThreshold))
    .attr('stroke','#00008b').attr('stroke-width',2).attr('stroke-dasharray','4,4');
  g.append('line').attr('x1',L).attr('x2',R).attr('y1',y(0)-0.5).attr('y2',y(0)-0.5)
    .attr('stroke','#000').attr('stroke-width',1.5);
}

// ---- Panel 3 ----
{
  const p=panels[2], g=p.g, y=p.y;
  const line=d3.line().x(d=>x(d[0])).y(d=>y(d[1]));
  g.append('path').datum(bat).attr('fill','none').attr('stroke','rgba(95,165,25,0.45)').attr('stroke-width',3.5).attr('d',line);
  asmBandRanges.forEach(r=>{
    g.append('path').datum(asm.filter(d=>d[0]>=r[0]&&d[0]<=r[1])).attr('fill','none')
      .attr('stroke','rgba(180,30,30,0.45)').attr('stroke-width',4).attr('d',line);
  });
  g.append('path').datum(maxi).attr('fill','none').attr('stroke','rgba(107,156,255,0.45)').attr('stroke-width',3).attr('d',line);
  g.append('path').datum(bat).attr('fill','none').attr('stroke','#58a010').attr('stroke-width',1.5).attr('d',line);
  g.append('path').datum(asm).attr('fill','none').attr('stroke','#b41818').attr('stroke-width',1.4).attr('d',line);
  g.append('path').datum(maxi).attr('fill','none').attr('stroke','#6b9cff').attr('stroke-width',1.2).attr('d',line);
  g.append('line').attr('x1',L).attr('x2',R).attr('y1',y(batLevel)).attr('y2',y(batLevel))
    .attr('stroke','#58a010').attr('stroke-width',2).attr('stroke-dasharray','4,3');
  const lg=[['MAXI 2-20keV','#6b9cff',347],['ASM(÷10) 3-5keV','#b41818',366],['BAT(×10) 15-50keV','#58a010',386]];
  svg.selectAll('text.lg').data(lg).join('text').attr('class','lg')
    .attr('x',113).attr('y',d=>d[2]).attr('fill',d=>d[1]).attr('font-size',12.5).attr('font-weight','bold').text(d=>d[0]);
}

// ---- Panel 4 ----
{
  const p=panels[3], g=p.g, y=p.y;
  const pts=[].concat(amiPre,amiPreB,amiDecay,amiDecayB,amiFlareA,amiFlareB,amiMid,amiMidB,
    amiFlatA.map((v,i)=>[amiFlatAStart+i*amiFlatAStep,v]),
    amiFlatA2.map((v,i)=>[amiFlatA2Start+i*amiFlatA2Step,v]),
    amiRise,amiRiseB,
    amiFlatB.map((v,i)=>[amiFlatBStart+i*amiFlatBStep,v]));
  g.selectAll('rect.ami').data(pts).join('rect').attr('class','ami')
    .attr('x',d=>x(d[0])-1.6).attr('y',d=>y(d[1])-1.6).attr('width',3.2).attr('height',3.2).attr('fill','#330000');
  svg.append('text').attr('x',113).attr('y',648).attr('fill','#3a0c0c').attr('font-size',12.5).attr('font-weight','bold').text('AMI(×1000) 15GHz');
}

// ---- Axes and frames ----
function styleAxis(sel,fs){
  sel.select('.domain').remove();
  sel.selectAll('.tick line').attr('stroke','#6e6e6e').attr('stroke-width',2);
  sel.selectAll('.tick text').attr('fill','#222').attr('font-size',fs).attr('font-family','"Liberation Sans",Arial,sans-serif');
}
const fmtY=d=>d<0?'\u2212'+(-d):String(d);
panels.forEach((p,i)=>{
  const gl=svg.append('g').attr('transform',`translate(${L},0)`)
    .call(d3.axisLeft(p.y).tickValues(p.maj).tickSize(-22).tickPadding(4).tickFormat(fmtY));
  styleAxis(gl,10);
  if(i===1) gl.selectAll('.tick text').filter(d=>d===0).attr('dy','0.1em');
  if(i===2) gl.selectAll('.tick text').filter(d=>d===5).attr('dy','0.5em');
  const gr=svg.append('g').attr('transform',`translate(${R},0)`)
    .call(d3.axisRight(p.y).tickValues(p.maj).tickSize(-22).tickFormat(''));
  styleAxis(gr,10);
  if(p.step){
    const mv=minorVals(p.dom,p.step,p.maj);
    styleAxis(svg.append('g').attr('transform',`translate(${L},0)`).call(d3.axisLeft(p.y).tickValues(mv).tickSize(-11).tickFormat('')),10);
    styleAxis(svg.append('g').attr('transform',`translate(${R},0)`).call(d3.axisRight(p.y).tickValues(mv).tickSize(-11).tickFormat('')),10);
  }
  const xminor=d3.range(1700,4500,100).filter(v=>!xMajor.includes(v));
  const gb=svg.append('g').attr('transform',`translate(0,${p.bot})`)
    .call(d3.axisBottom(x).tickValues(xMajor).tickSize(-5).tickPadding(i===3?4:0).tickFormat(i===3?d3.format('d'):''));
  styleAxis(gb,12.5);
  styleAxis(svg.append('g').attr('transform',`translate(0,${p.bot})`).call(d3.axisBottom(x).tickValues(xminor).tickSize(-2.5).tickFormat('')),10);
  styleAxis(svg.append('g').attr('transform',`translate(0,${p.top})`).call(d3.axisTop(x).tickValues(xMajor).tickSize(-5).tickFormat('')),10);
  styleAxis(svg.append('g').attr('transform',`translate(0,${p.top})`).call(d3.axisTop(x).tickValues(xminor).tickSize(-2.5).tickFormat('')),10);
  svg.append('rect').attr('x',L).attr('y',p.top).attr('width',R-L).attr('height',p.bot-p.top)
    .attr('fill','none').attr('stroke','#666').attr('stroke-width',1.5);
});
[[L,L+10],[R-10,R]].forEach(s=>{
  svg.append('line').attr('x1',s[0]).attr('x2',s[1]).attr('y1',497).attr('y2',497).attr('stroke','#000').attr('stroke-width',2.5);
});
svg.append('text').attr('x',R).attr('y',686).attr('text-anchor','end').attr('font-size',9).attr('fill','#222').text('MJD-53000');

function titleSup(cx,cy,parts){
  const t=svg.append('text').attr('transform',`translate(${cx+4},${cy}) rotate(-90)`)
    .attr('text-anchor','middle').attr('font-size',12).attr('fill','#111');
  let up=false;
  parts.forEach(pt=>{
    const s=t.append('tspan').text(pt[0]);
    if(pt[1]&&!up){s.attr('font-size',8.5).attr('dy',-5);up=true;}
    else if(pt[1]){s.attr('font-size',8.5);}
    else if(up){s.attr('dy',5);up=false;}
  });
}
titleSup(18,88,[['ph cm',0],['-2',1],[' s',0],['-1',1],[' [\u00d710',0],['-6',1],[']',0]]);
titleSup(36,247,[['TS',0]]);
titleSup(18,413,[['cts s',0],['-1',1],['(cm',0],['-2',1],[')',0]]);
titleSup(36,580,[['Jy',0]]);
</script>
</body></html>
